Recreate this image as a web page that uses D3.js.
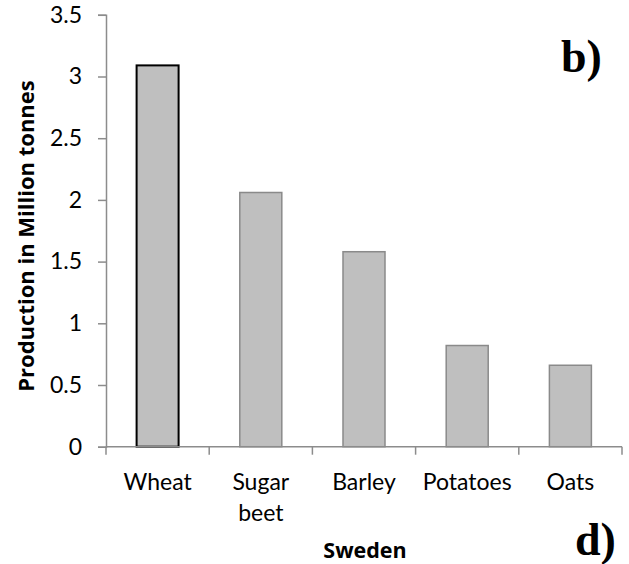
<!DOCTYPE html>
<html>
<head>
<meta charset="utf-8">
<script src="https://cdn.jsdelivr.net/npm/d3@7"></script>
<style>
  html, body { margin: 0; padding: 0; background: #fff; }
  svg { display: block; }
</style>
</head>
<body>
<svg id="chart" width="629" height="564"></svg>
<script>
// Crop production, Sweden (million tonnes)
const crops = ["Wheat", "Sugar beet", "Barley", "Potatoes", "Oats"];
const production = [3.09, 2.06, 1.58, 0.82, 0.66];
const yTicks = [0, 0.5, 1, 1.5, 2, 2.5, 3, 3.5];
const yTickLabels = ["0", "0.5", "1", "1.5", "2", "2.5", "3", "3.5"];

const svg = d3.select("#chart");
const plotLeft = 106, plotRight = 622, plotTop = 14.8, plotBottom = 446.7;
const font = "Lato, 'Open Sans', sans-serif";
const titleFont = "'Open Sans', Lato, sans-serif";
const serif = "'Liberation Serif', 'DejaVu Serif', serif";
const axisColor = "#8c8c8c";

const x = d3.scaleBand().domain(crops).range([plotLeft, plotRight]).paddingInner(0.593).paddingOuter(0.2965);
const y = d3.scaleLinear().domain([0, 3.5]).range([plotBottom, plotTop]);

// bars
svg.append("g").selectAll("rect")
  .data(crops)
  .join("rect")
  .attr("x", d => x(d))
  .attr("width", x.bandwidth())
  .attr("y", (d, i) => y(production[i]))
  .attr("height", (d, i) => y(0) - y(production[i]))
  .attr("fill", "#bfbfbf")
  .attr("stroke", (d, i) => i === 0 ? "#000" : "#8a8a8a")
  .attr("stroke-width", (d, i) => i === 0 ? 2 : 1.5);

// y axis
const yAxis = svg.append("g")
  .attr("transform", `translate(${plotLeft},0)`)
  .call(d3.axisLeft(y).tickValues(yTicks).tickFormat((d, i) => yTickLabels[i]).tickSize(8).tickPadding(16));
yAxis.select(".domain").attr("stroke", axisColor).attr("stroke-width", 1.5);
yAxis.selectAll(".tick line").attr("stroke", axisColor).attr("stroke-width", 1.5);
yAxis.selectAll(".tick text").attr("font-family", font).attr("font-size", 23).attr("fill", "#000");

// x axis with boundary ticks between categories
const xg = svg.append("g").attr("transform", `translate(0,${plotBottom})`);
xg.append("line").attr("x1", plotLeft).attr("x2", plotRight).attr("stroke", axisColor).attr("stroke-width", 1.5);
const step = x.step();
const bounds = d3.range(crops.length + 1).map(i => plotLeft + i * step);
xg.selectAll("line.b").data(bounds).join("line").attr("class", "b")
  .attr("x1", d => d).attr("x2", d => d).attr("y1", 0).attr("y2", 8)
  .attr("stroke", axisColor).attr("stroke-width", 1.5);

// category labels (wrapped)
const labels = xg.selectAll("text.cat").data(crops).join("text").attr("class", "cat")
  .attr("text-anchor", "middle")
  .attr("font-family", font).attr("font-size", 23).attr("fill", "#000");
labels.each(function(d) {
  const words = d.split(" ");
  const t = d3.select(this);
  words.forEach((w, k) => {
    t.append("tspan").attr("x", x(d) + x.bandwidth() / 2).attr("y", 43.3 + k * 31).text(w);
  });
});

// axis titles
svg.append("text")
  .attr("transform", `translate(34,236) rotate(-90)`)
  .attr("text-anchor", "middle")
  .attr("font-family", titleFont).attr("font-weight", "bold").attr("font-size", 22)
  .text("Production in Million tonnes");

svg.append("text")
  .attr("x", 365).attr("y", 558)
  .attr("text-anchor", "middle")
  .attr("font-family", titleFont).attr("font-weight", "bold").attr("font-size", 21.5)
  .text("Sweden");

// panel letters
svg.append("text").attr("x", 561).attr("y", 72)
  .attr("font-family", serif).attr("font-weight", "bold").attr("font-size", 46)
  .text("b)");
svg.append("text").attr("x", 575).attr("y", 555)
  .attr("font-family", serif).attr("font-weight", "bold").attr("font-size", 46)
  .text("d)");
</script>
</body>
</html>
